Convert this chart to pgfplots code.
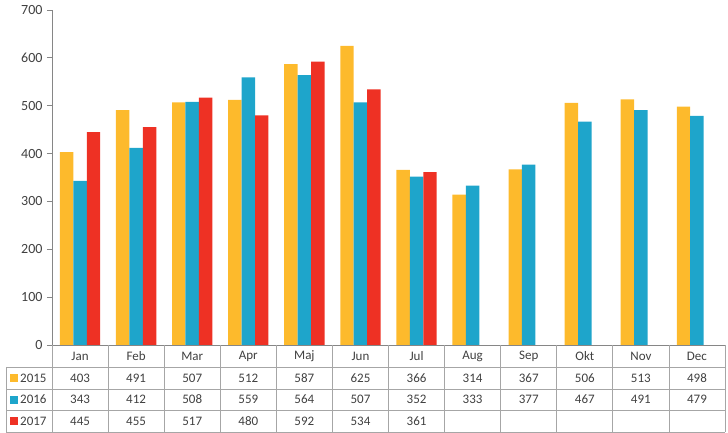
\documentclass[border=0pt]{standalone}
\usepackage{pgfplots}
\pgfplotsset{compat=1.18}
\usepackage{fontspec}
\setmainfont{Carlito}
\definecolor{c15}{HTML}{FDBA2C}
\definecolor{c16}{HTML}{1EA5CB}
\definecolor{c17}{HTML}{EE3124}
\definecolor{gridc}{HTML}{A6A6A6}
\definecolor{axc}{HTML}{868686}
\definecolor{txt}{HTML}{404040}
\begin{document}
\begin{tikzpicture}[x=1pt,y=1pt,font=\fontsize{13}{15}\selectfont]
\begin{axis}[
  at={(52pt,88pt)}, anchor=south west,
  scale only axis, width=673pt, height=335pt,
  xmin=-0.5, xmax=11.5, ymin=0, ymax=700,
  axis x line=none,
  axis y line*=left,
  y axis line style={axc, line width=0.8pt},
  ytick={0,100,...,700},
  tick align=outside, major tick length=5pt,
  ytick style={axc, line width=0.8pt},
  yticklabel style={color=txt, font=\fontsize{14}{16}\selectfont, xshift=-1pt},
  /pgf/number format/assume math mode=true,
  ybar=0pt, bar width=0.24,
  clip=false,
]
\addplot[fill=c15, draw=none] coordinates {(0,403) (1,491) (2,507) (3,512) (4,587) (5,625) (6,366) (7,314) (8,367) (9,506) (10,513) (11,498)};
\addplot[fill=c16, draw=none] coordinates {(0,343) (1,412) (2,508) (3,559) (4,564) (5,507) (6,352) (7,333) (8,377) (9,467) (10,491) (11,479)};
\addplot[fill=c17, draw=none] coordinates {(0,445) (1,455) (2,517) (3,480) (4,592) (5,534) (6,361)};
\end{axis}
% data table
\draw[axc, line width=0.8pt] (52,88) -- (725,88);
\foreach \yy in {66,44,23,1} \draw[gridc, line width=0.8pt] (6,\yy) -- (725,\yy);
\foreach \k in {0,...,12} \draw[gridc, line width=0.8pt] ({52+56.0833*\k},88) -- ({52+56.0833*\k},1);
\draw[gridc, line width=0.8pt] (6,66) -- (6,1);
\foreach \m [count=\i from 0] in {Jan,Feb,Mar,Apr,Maj,Jun,Jul,Aug,Sep,Okt,Nov,Dec}
  \node[txt] at ({52+56.0833*(\i+0.5)},77) {\m};
\foreach \v [count=\i from 0] in {403,491,507,512,587,625,366,314,367,506,513,498}
  \node[txt] at ({52+56.0833*(\i+0.5)},55) {\v};
\foreach \v [count=\i from 0] in {343,412,508,559,564,507,352,333,377,467,491,479}
  \node[txt] at ({52+56.0833*(\i+0.5)},33.5) {\v};
\foreach \v [count=\i from 0] in {445,455,517,480,592,534,361}
  \node[txt] at ({52+56.0833*(\i+0.5)},12) {\v};
\node[txt, anchor=west, inner sep=0pt] at (10,55) {\textcolor{c15}{\rule{8pt}{8pt}}\hspace{2pt}2015};
\node[txt, anchor=west, inner sep=0pt] at (10,33.5) {\textcolor{c16}{\rule{8pt}{8pt}}\hspace{2pt}2016};
\node[txt, anchor=west, inner sep=0pt] at (10,12) {\textcolor{c17}{\rule{8pt}{8pt}}\hspace{2pt}2017};
\pgfresetboundingbox
\path[use as bounding box] (0,0) rectangle (728,433);
\end{tikzpicture}
\end{document}
